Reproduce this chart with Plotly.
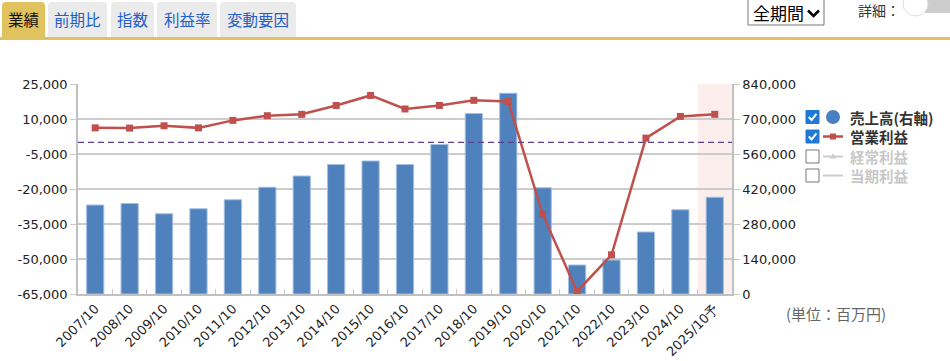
import plotly.graph_objects as go

# ---- data ----
categories = ["2007/10", "2008/10", "2009/10", "2010/10", "2011/10", "2012/10", "2013/10",
              "2014/10", "2015/10", "2016/10", "2017/10", "2018/10", "2019/10", "2020/10",
              "2021/10", "2022/10", "2023/10", "2024/10", "2025/10予"]
sales = [356000, 362000, 321000, 341000, 377000, 427000, 472000, 518000, 532000, 518000,
         598000, 722000, 803000, 425000, 116000, 136000, 248000, 337000, 387000]
op_profit = [6200, 6100, 7100, 6200, 9400, 11400, 12000, 15800, 20100, 14300, 15800,
             18000, 17500, -30900, -63900, -48200, 1800, 11100, 12000]
left_ticks = [25000, 10000, -5000, -20000, -35000, -50000, -65000]
right_ticks = [840000, 700000, 560000, 420000, 280000, 140000, 0]
tabs = ["業績", "前期比", "指数", "利益率", "変動要因"]
legend_labels = ["売上高(右軸)", "営業利益", "経常利益", "当期利益"]
forecast_label = "2025/10予"

# ---- geometry helpers (pixel -> paper) ----
PL, PR, PT, PB = 78, 732, 84, 294
W, H = PR - PL, PB - PT


def px(x):
    return (x - PL) / W


def py(y):
    return (PB - y) / H


BLUE = "#4f81bd"
RED = "#c0504d"
GOLD = "#e0c35f"
TICKFONT = dict(family="DejaVu Sans", size=13, color="#222222")
JP = "Noto Sans CJK JP"

fig = go.Figure()
fig.add_trace(go.Bar(x=categories, y=sales, yaxis="y", marker=dict(color=BLUE, line=dict(color="#a3bfe3", width=1)),
                     name=legend_labels[0]))
fig.add_trace(go.Scatter(x=categories, y=op_profit, yaxis="y2", mode="lines+markers",
                         line=dict(color=RED, width=2.5), marker=dict(symbol="square", size=7, color=RED),
                         name=legend_labels[1], cliponaxis=False))

shapes = []
annotations = []

# forecast shading
fi = categories.index(forecast_label)
shapes.append(dict(type="rect", xref="x", yref="paper", x0=fi - 0.5, x1=fi + 0.5, y0=0, y1=1,
                   fillcolor="#fdeeee", line=dict(width=0), layer="below"))
# zero dashed line on left axis
shapes.append(dict(type="line", xref="paper", yref="y2", x0=0, x1=1, y0=0, y1=0,
                   line=dict(color="#5b3f8c", width=1.3, dash="6px,4px"), layer="above"))

# ---- tabs ----
tab_x = [(2, 45), (48, 107), (111, 154), (157, 217), (220, 296)]
for i, (t, (a, b)) in enumerate(zip(tabs, tab_x)):
    r = 4
    path = (f"M {px(a)},{py(38)} L {px(a)},{py(2 + r)} Q {px(a)},{py(2)} {px(a + r)},{py(2)} "
            f"L {px(b - r)},{py(2)} Q {px(b)},{py(2)} {px(b)},{py(2 + r)} L {px(b)},{py(38)} Z")
    shapes.append(dict(type="path", xref="paper", yref="paper", path=path,
                       fillcolor=GOLD if i == 0 else "#ebebeb", line=dict(width=0)))
    annotations.append(dict(xref="paper", yref="paper", x=px((a + b) / 2), y=py(19), text=t,
                            showarrow=False, xanchor="center", yanchor="middle", borderpad=0,
                            font=dict(family=JP, size=15.5, color="#111111" if i == 0 else "#2160cc")))
shapes.append(dict(type="rect", xref="paper", yref="paper", x0=px(-5), x1=px(960), y0=py(37), y1=py(40),
                   fillcolor=GOLD, line=dict(width=0)))

# ---- select box ----
shapes.append(dict(type="rect", xref="paper", yref="paper", x0=px(748), x1=px(824), y0=py(-3), y1=py(25),
                   fillcolor="white", line=dict(color="#767676", width=1)))
annotations.append(dict(xref="paper", yref="paper", x=px(752), y=py(12), text="全期間", showarrow=False,
                        xanchor="left", yanchor="middle", borderpad=0,
                        font=dict(family=JP, size=17, color="#000000")))
shapes.append(dict(type="path", xref="paper", yref="paper",
                   path=f"M {px(808)},{py(10.5)} L {px(813.5)},{py(16)} L {px(819)},{py(10.5)}",
                   line=dict(color="#000000", width=2.5)))

# ---- detail toggle ----
annotations.append(dict(xref="paper", yref="paper", x=px(857), y=py(10), text="詳細：", showarrow=False,
                        xanchor="left", yanchor="middle", borderpad=0,
                        font=dict(family=JP, size=14, color="#333333")))
shapes.append(dict(type="path", xref="paper", yref="paper",
                   path=f"M {px(916)},{py(-5)} L {px(960)},{py(-5)} L {px(960)},{py(13)} L {px(916)},{py(13)} Z",
                   fillcolor="#cccccc", line=dict(width=0)))
shapes.append(dict(type="circle", xref="paper", yref="paper", x0=px(903), x1=px(928), y0=py(-8), y1=py(16),
                   fillcolor="white", line=dict(color="#dddddd", width=1)))

# ---- custom legend ----
rows = [117, 136.5, 156.5, 175.5]
checked = [True, True, False, False]
text_colors = ["#333333", "#333333", "#c8c8c8", "#c8c8c8"]
for i, (lab, cy) in enumerate(zip(legend_labels, rows)):
    if checked[i]:
        shapes.append(dict(type="rect", xref="paper", yref="paper", x0=px(806), x1=px(819),
                           y0=py(cy + 6.5), y1=py(cy - 6.5), fillcolor="#2079d4", line=dict(color="#2079d4", width=1)))
        shapes.append(dict(type="path", xref="paper", yref="paper",
                           path=f"M {px(808.8)},{py(cy)} L {px(811.6)},{py(cy + 3)} L {px(816.4)},{py(cy - 3.2)}",
                           line=dict(color="white", width=2)))
    else:
        shapes.append(dict(type="rect", xref="paper", yref="paper", x0=px(806), x1=px(819),
                           y0=py(cy + 6.5), y1=py(cy - 6.5), fillcolor="white", line=dict(color="#767676", width=1)))
    annotations.append(dict(xref="paper", yref="paper", x=px(849), y=py(cy), text=lab, showarrow=False,
                            xanchor="left", yanchor="middle", borderpad=0,
                            font=dict(family=JP, size=14.5, color=text_colors[i], weight="bold")))

# icons
shapes.append(dict(type="circle", xref="paper", yref="paper", x0=px(826), x1=px(840), y0=py(rows[0] + 7),
                   y1=py(rows[0] - 7), fillcolor="#4a80c2", line=dict(width=0)))
shapes.append(dict(type="line", xref="paper", yref="paper", x0=px(823), x1=px(843), y0=py(rows[1]), y1=py(rows[1]),
                   line=dict(color=RED, width=2.5)))
shapes.append(dict(type="rect", xref="paper", yref="paper", x0=px(830), x1=px(836), y0=py(rows[1] + 3),
                   y1=py(rows[1] - 3), fillcolor=RED, line=dict(width=0)))
shapes.append(dict(type="line", xref="paper", yref="paper", x0=px(823), x1=px(843), y0=py(rows[2]), y1=py(rows[2]),
                   line=dict(color="#cccccc", width=2)))
shapes.append(dict(type="path", xref="paper", yref="paper",
                   path=f"M {px(829.5)},{py(rows[2] + 2)} L {px(833)},{py(rows[2] - 3)} L {px(836.5)},{py(rows[2] + 2)} Z",
                   fillcolor="#cccccc", line=dict(width=0)))
shapes.append(dict(type="line", xref="paper", yref="paper", x0=px(823), x1=px(843), y0=py(rows[3]), y1=py(rows[3]),
                   line=dict(color="#cccccc", width=2)))

# units
annotations.append(dict(xref="paper", yref="paper", x=px(836), y=py(313), text="(単位：百万円)", showarrow=False,
                        xanchor="center", yanchor="middle", borderpad=0,
                        font=dict(family=JP, size=15, color="#666666")))

fig.update_layout(
    width=950, height=361,
    margin=dict(l=PL, r=950 - PR, t=PT, b=361 - PB, autoexpand=False),
    plot_bgcolor="white", paper_bgcolor="white",
    showlegend=False, bargap=0.5,
    xaxis=dict(type="category", range=[-0.5, len(categories) - 0.5], tickangle=-45, automargin=False,
               ticks="inside", tickson="boundaries", ticklen=5, tickcolor="#c8c8c8",
               showline=True, linecolor="#c0c0c0", linewidth=2, showgrid=False, tickfont=TICKFONT),
    yaxis=dict(side="right", range=[0, 840000], tickmode="array", tickvals=right_ticks, automargin=False,
               ticktext=[f"{v:,}" for v in right_ticks], showgrid=True, gridcolor="#cccccc", gridwidth=1.5,
               showline=True, linecolor="#c0c0c0", linewidth=1.5, ticks="outside", ticklen=6,
               tickcolor="#c8c8c8", zeroline=False, tickfont=TICKFONT),
    yaxis2=dict(side="left", overlaying="y", range=[-65000, 25000], tickmode="array", tickvals=left_ticks,
                automargin=False,
                ticktext=[f"{v:,}" for v in left_ticks], showgrid=False, showline=True,
                linecolor="#c0c0c0", linewidth=1.5, ticks="outside", ticklen=6, tickcolor="#c8c8c8",
                zeroline=False, tickfont=TICKFONT),
    shapes=shapes, annotations=annotations,
)

fig.write_html("out.html", config={"displayModeBar": False},
               post_script="document.body.style.margin='0';document.body.style.overflow='hidden';")
